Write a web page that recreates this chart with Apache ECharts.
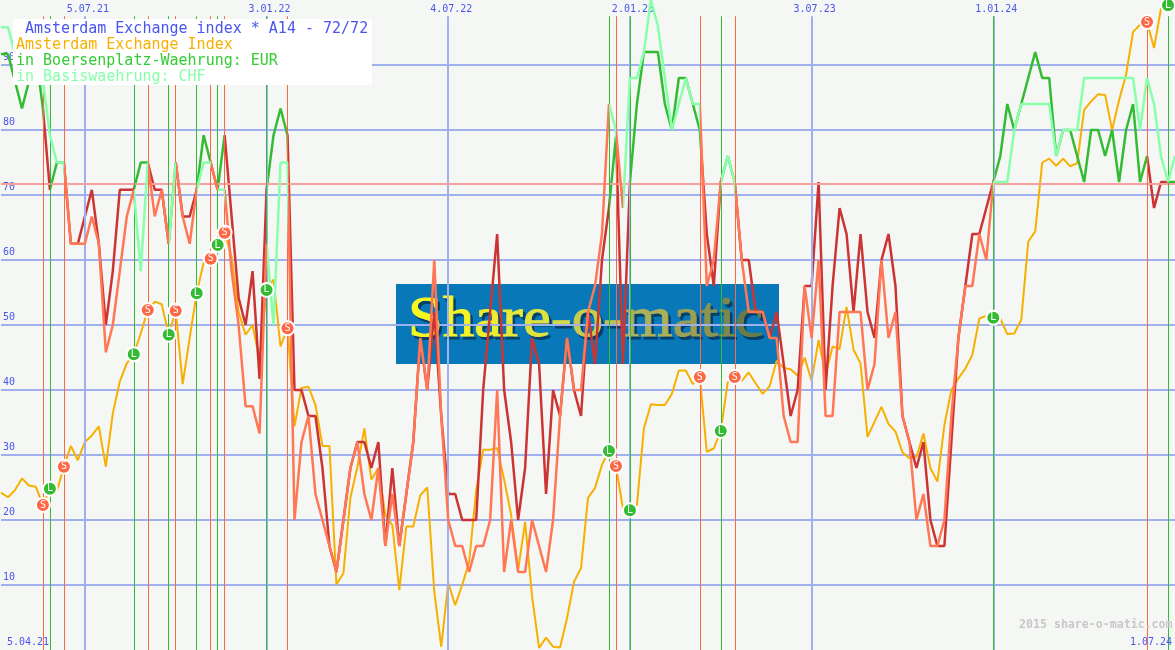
<!DOCTYPE html>
<html>
<head>
<meta charset="utf-8">
<style>
  html, body { margin: 0; padding: 0; background: #f5f7f4; }
  #chart { width: 1175px; height: 650px; }
</style>
<script src="https://cdn.jsdelivr.net/npm/echarts@6/dist/echarts.min.js"></script>
</head>
<body>
<div id="chart"></div>
<script>
// weekly index values, week 0 is 12.04.21
const indexValues = [
  24.2, 23.5, 24.6, 26.4, 25.3, 25.1, 22.3, 24.8, 24.5, 28.2,
  31.4, 29.2, 32, 33, 34.4, 28.2, 36.4, 41.3, 44.1, 45.5,
  48.7, 52.3, 53.6, 53.2, 48.5, 52.2, 40.9, 48, 54.9, 59.6,
  60.2, 62.3, 64.2, 60.5, 52, 48.5, 50, 44.6, 55.4, 57,
  46.7, 49.5, 34.4, 40.3, 40.5, 37.7, 31.4, 31.4, 10.1, 11.8,
  23.4, 28.2, 34.1, 26.2, 28, 20.8, 19.2, 9.2, 19, 19,
  23.8, 25, 9, 0.5, 10.3, 6.9, 10, 13.6, 24.6, 30.8,
  30.8, 31.1, 26.2, 20.8, 12.3, 19.7, 8.2, 0.3, 1.9, 0.5,
  0.4, 4.9, 10.5, 12.6, 23.4, 24.9, 28.5, 30.6, 28.3, 21.8,
  21.5, 22.3, 34.1, 37.8, 37.7, 37.7, 39.4, 43, 43, 40.9,
  42, 30.5, 31, 33.7, 41.2, 42, 41.4, 42.7, 41, 39.4,
  40.6, 44.5, 43.4, 43.2, 42.2, 45, 41.4, 47.7, 42.3, 46.7,
  46.3, 52.8, 46.2, 44.1, 32.8, 35.1, 37.4, 34.8, 33.6, 30.4,
  29.5, 29.7, 33.3, 28, 25.9, 34.6, 40, 41.8, 43.3, 45.4,
  51, 51.4, 51.1, 51, 48.6, 48.7, 50.8, 62.8, 64.4, 75,
  75.6, 74.5, 75.6, 74.4, 74.9, 83.1, 84.4, 85.5, 85.4, 80,
  84.6, 88.5, 95.1, 96.2, 96.6, 92.6, 98.7, 99.2, 99.6
];
const eurValues = [
  91.7, 91.7, 87.5, 83.3, 87.5, 91.7, 83.3, 70.8, 75, 75,
  62.5, 62.5, 66.7, 70.8, 62.5, 50, 58.3, 70.8, 70.8, 70.8,
  75, 75, 70.8, 70.8, 62.5, 75, 66.7, 66.7, 70.8, 79.2,
  75, 70.8, 79.2, 66.7, 54.2, 50, 58.3, 41.7, 70.8, 79.2,
  83.3, 79.2, 40, 40, 36, 36, 28, 16, 12, 20,
  28, 32, 32, 28, 32, 16, 28, 16, 24, 32,
  48, 40, 52, 36, 24, 24, 20, 20, 20, 40,
  52, 64, 40, 32, 20, 28, 48, 44, 24, 40,
  36, 48, 40, 36, 52, 44, 60, 68, 79, 44,
  72, 84, 92, 92, 92, 84, 80, 88, 88, 84,
  80, 64, 56, 72, 76, 72, 60, 60, 52, 52,
  48, 52, 44, 36, 40, 56, 56, 72, 40, 56,
  68, 64, 52, 64, 52, 48, 60, 64, 56, 36,
  32, 28, 32, 20, 16, 16, 32, 48, 56, 64,
  64, 68, 72, 76, 84, 80, 84, 88, 92, 88,
  88, 76, 80, 80, 76, 72, 80, 80, 76, 80,
  72, 80, 84, 72, 76, 68, 72, 72, 72
];
const chfValues = [
  95.8, 95.8, 91.7, 87.5, 91.7, 91.7, 87.5, 79.2, 75, 75,
  62.5, 62.5, 62.5, 66.7, 62.5, 45.8, 50, 58.3, 66.7, 70.8,
  58.3, 75, 66.7, 70.8, 62.5, 75, 66.7, 62.5, 70.8, 75,
  75, 70.8, 70.8, 58.3, 50, 37.5, 37.5, 33.3, 62.5, 50,
  75, 75, 20, 32, 36, 24, 20, 16, 12, 20,
  28, 32, 24, 20, 28, 16, 24, 16, 24, 32,
  48, 40, 60, 36, 20, 16, 16, 12, 16, 16,
  20, 40, 12, 20, 12, 12, 20, 16, 12, 20,
  36, 48, 40, 40, 52, 56, 64, 84, 80, 68,
  88, 88, 92, 100, 96, 88, 80, 84, 88, 84,
  84, 56, 60, 72, 76, 72, 60, 52, 52, 52,
  48, 48, 36, 32, 32, 56, 48, 60, 36, 36,
  52, 52, 52, 52, 40, 44, 60, 48, 52, 36,
  32, 20, 24, 16, 16, 20, 36, 48, 56, 56,
  64, 60, 72, 72, 72, 80, 84, 84, 84, 84,
  84, 76, 80, 80, 80, 88, 88, 88, 88, 88,
  88, 88, 88, 80, 88, 84, 76, 72, 76
];
// week spans where a line is long (green), everything else is short (red)
const eurLong = [[0, 6], [7, 9], [19, 21], [24, 25], [28, 30], [31, 32], [38, 41], [87, 88], [90, 100], [103, 105], [142, 164], [167, 168]];
const chfLong = [[0, 9], [19, 21], [24, 25], [28, 30], [31, 32], [38, 41], [87, 88], [89, 100], [103, 105], [142, 168]];
// signals, sitting on the index line
const sellWeeks = [6, 9, 21, 25, 30, 32, 41, 88, 100, 105, 164];
const buyWeeks = [7, 19, 24, 28, 31, 38, 87, 90, 103, 142, 167];
const gridWeeks = [12, 38, 64, 90, 116, 142];
const resistance = 71.7;

const BLUE = '#4a55ee';
const LINE = '#a0b0ee';
const RED = '#ff6644';
const GREEN = '#33bb33';
const YELLOW = '#f7b000';
const MINT = '#88ffaa';
const MONO = '"DejaVu Sans Mono", "Liberation Mono", monospace';
const LOGO_FONT = '57px "Liberation Serif", serif';

// weekly category names, d.mm.yy like in the tick labels
const categories = indexValues.map((v, i) => {
  const d = new Date(Date.UTC(2021, 3, 12 + i * 7));
  const mm = String(d.getUTCMonth() + 1).padStart(2, '0');
  return d.getUTCDate() + '.' + mm + '.' + String(d.getUTCFullYear()).slice(2);
});

function sectionPieces(longSpans, longColor, shortColor) {
  const pieces = [];
  let last = 0;
  longSpans.forEach(function (s) {
    if (s[0] > last) pieces.push({ gte: last, lte: s[0], color: shortColor });
    pieces.push({ gte: s[0], lte: s[1], color: longColor });
    last = s[1];
  });
  return pieces;
}

function vLines(weeks, color, width) {
  return {
    silent: true,
    symbol: 'none',
    animation: false,
    label: { show: false },
    emphasis: { disabled: true },
    lineStyle: { color: color, width: width, type: 'solid' },
    data: weeks.map(w => [
      { coord: [categories[w], 0] },
      { coord: [categories[w], 97.5] }
    ])
  };
}

function signalSeries(name, weeks, color, letter) {
  return {
    name: name,
    type: 'scatter',
    z: 6,
    symbolSize: 14,
    silent: true,
    itemStyle: { color: color, borderColor: '#ffffff', borderWidth: 2, opacity: 1 },
    label: {
      show: true,
      position: 'inside',
      formatter: letter,
      color: '#ffffff',
      fontFamily: MONO,
      fontSize: 10
    },
    data: weeks.map(w => [w, indexValues[w]])
  };
}

function boxText(text, x, y, color) {
  return {
    type: 'text',
    z: 101,
    x: x,
    y: y,
    style: { text: text, fill: color, font: '15px ' + MONO, textVerticalAlign: 'middle' }
  };
}

// the logo fades from yellow to olive, rich text takes one colour per letter
const logoColors = ['#f8f820', '#f4f428', '#eeee30', '#e8e838', '#e0e240', '#d4d848', '#c8cc50', '#bcc058', '#acb058', '#9ca054', '#8c9450', '#7c884c', '#6c7c48'];
const logoLetters = 'Share-o-matic'.split('');
const logoRich = {};
logoLetters.forEach((c, i) => {
  logoRich['c' + i] = { fill: logoColors[i], stroke: logoColors[i], lineWidth: 1, font: LOGO_FONT };
});
const logoText = logoLetters.map((c, i) => '{c' + i + '|' + c + '}').join('');

const chart = echarts.init(document.getElementById('chart'));
chart.setOption({
  animation: false,
  backgroundColor: '#f5f7f4',
  grid: { left: 0, right: 0, top: 0, bottom: 0, containLabel: false },
  xAxis: {
    type: 'category',
    position: 'top',
    boundaryGap: false,
    data: categories,
    axisLine: { show: false },
    axisTick: { show: false },
    splitLine: { show: false },
    axisLabel: {
      inside: true,
      margin: 4,
      color: BLUE,
      fontFamily: MONO,
      fontSize: 10,
      padding: [0, 0, 0, 6],
      interval: (i) => gridWeeks.includes(i),
      hideOverlap: false
    }
  },
  yAxis: {
    type: 'value',
    min: 0,
    max: 100,
    interval: 10,
    axisLine: { show: false },
    axisTick: { show: false },
    splitLine: { showMinLine: false, showMaxLine: false, lineStyle: { color: LINE, width: 2 } },
    axisLabel: {
      inside: true,
      margin: 2,
      color: BLUE,
      fontFamily: MONO,
      fontSize: 10,
      verticalAlign: 'bottom',
      padding: [0, 0, 3, 0],
      formatter: (v) => (v === 0 || v === 100 ? '' : String(v))
    }
  },
  visualMap: [
    { show: false, type: 'piecewise', seriesIndex: 3, dimension: 0, pieces: sectionPieces(eurLong, GREEN, '#cc3333') },
    { show: false, type: 'piecewise', seriesIndex: 4, dimension: 0, pieces: sectionPieces(chfLong, MINT, '#ff7755') }
  ],
  graphic: [
    { type: 'rect', z: -3, shape: { x: 396, y: 284, width: 383, height: 80 }, style: { fill: '#0878b8' } },
    {
      type: 'text', z: -2, x: 410.5, y: 352.5, scaleX: 1.1,
      style: { text: 'Share-o-matic', font: LOGO_FONT, textVerticalAlign: 'bottom', fill: '#04406c', stroke: '#04406c', lineWidth: 1 }
    },
    {
      type: 'text', z: -1, x: 408, y: 350, scaleX: 1.1,
      style: { text: logoText, rich: logoRich, font: LOGO_FONT, textVerticalAlign: 'bottom' }
    },
    { type: 'rect', z: 100, shape: { x: 13, y: 19, width: 359, height: 66 }, style: { fill: '#ffffff' } },
    boxText('Amsterdam Exchange index * A14 - 72/72', 25, 29, BLUE),
    boxText('Amsterdam Exchange Index', 16, 45, YELLOW),
    boxText('in Boersenplatz-Waehrung: EUR', 16, 61, '#33cc33'),
    boxText('in Basiswaehrung: CHF', 16, 77, MINT),
    { type: 'text', z: 50, x: 7, y: 642, style: { text: '5.04.21', fill: BLUE, font: '10px ' + MONO, textVerticalAlign: 'middle' } },
    { type: 'text', z: 50, x: 1130, y: 642, style: { text: '1.07.24', fill: BLUE, font: '10px ' + MONO, textVerticalAlign: 'middle' } },
    { type: 'text', z: 50, x: 1019, y: 625, style: { text: '2015 share-o-matic.com', fill: '#c8c8c8', font: 'bold 11.6px ' + MONO, textVerticalAlign: 'middle' } }
  ],
  series: [
    {
      name: 'Gitter',
      type: 'line',
      z: 1,
      data: [],
      markLine: vLines(gridWeeks, LINE, 2)
    },
    {
      name: 'Signale',
      type: 'line',
      z: 2,
      data: [],
      markLine: {
        silent: true,
        symbol: 'none',
        animation: false,
        label: { show: false },
        lineStyle: { color: '#f8a0a0', width: 2, type: 'solid' },
        data: [{ yAxis: resistance }]
      }
    },
    {
      name: 'Amsterdam Exchange Index',
      type: 'line',
      z: 3,
      symbol: 'none',
      silent: true,
      lineStyle: { color: YELLOW, width: 2 },
      data: indexValues,
      markLine: vLines(sellWeeks, RED, 1)
    },
    {
      name: 'in Boersenplatz-Waehrung: EUR',
      type: 'line',
      z: 4,
      symbol: 'none',
      silent: true,
      lineStyle: { width: 2.5 },
      data: eurValues,
      markLine: vLines(buyWeeks, GREEN, 1)
    },
    {
      name: 'in Basiswaehrung: CHF',
      type: 'line',
      z: 5,
      symbol: 'none',
      silent: true,
      lineStyle: { width: 2.5 },
      data: chfValues
    },
    signalSeries('Short', sellWeeks, RED, 'S'),
    signalSeries('Long', buyWeeks, GREEN, 'L')
  ]
});
</script>
</body>
</html>
